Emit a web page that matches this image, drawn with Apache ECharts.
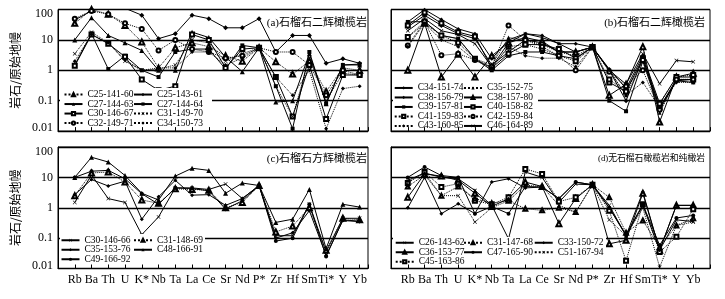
<!DOCTYPE html>
<html><head><meta charset="utf-8">
<script src="https://cdn.jsdelivr.net/npm/echarts@6/dist/echarts.min.js"></script>
<style>html,body{margin:0;padding:0;background:#fff}#c{width:725px;height:299px}</style>
</head><body><div id="c"></div>
<script>
// ---- categories & tick labels ----
const cats = ['Rb','Ba','Th','U','K*','Nb','Ta','La','Ce','Sr','Nd','P*','Zr','Hf','Sm','Ti*','Y','Yb'];
const yTickLabels = ['0.01','0.1','1','10','100'];
const yName = '岩石/原始地幔';
const titles = ['(a)石榴石二辉橄榄岩','(b)石榴石二辉橄榄岩','(c)石榴石方辉橄榄岩','(d)无石榴石橄榄岩和纯橄岩'];

// ---- panel (a) ----
const C25_141_60 = [35, 100, 70, 30, 8.6, 1.2, 5.5, 8, 6, 3, 2, 5.5, 1.9, 0.75, 2, 0.2, 1.2, 1.0];
const C25_143_61 = [45, 90, 130, 110, 65, 11, 16, 65, 50, 25, 25, 50, 4, 14, 14, 1.7, 2.4, 1.7];
const C27_144_63 = [10, 54, 14, 8, 4.5, 1, 1, 18, 12, 2.7, 0.9, 5.5, 0.09, 0.1, 3.5, 0.08, 1.5, 1.5];
const C27_144_64 = [1.5, 16, 1.1, 3, 1, 0.6, 4, 5, 5, 1.1, 6.6, 5.5, 0.3, 0.012, 4, 0.08, 1.5, 1.6];
const C30_146_67 = [1.4, 15, 7.5, 2.8, 0.5, 0.22, 0.3, 15, 10, 1.2, 5, 5.5, 0.6, 0.03, 1.5, 0.025, 0.7, 0.7];
const C31_149_70 = [3.5, 18, 8, 2, 1, 1.1, 1.5, 10, 8, 2, 3.5, 5.5, 0.3, 0.03, 2.5, 0.1, 0.8, 0.7];
const C32_149_71 = [50, 90, 70, 35, 23, 4.5, 10, 5, 4, 2.5, 3, 5.5, 4, 4, 1.5, 0.15, 1, 0.7];
const C34_150_73 = [2, 15, 8, 2.2, 1, 1.2, 1.2, 4, 4, 1.5, 2.5, 5.5, 0.6, 0.15, 1, 0.012, 0.25, 0.3];

// ---- panel (b) ----
const C34_151_74 = [39, 99, 47, 23, 16, 2.4, 10, 16, 14, 7.5, 7.5, 5.8, 1.1, 0.25, 3, 0.08, 0.6, 0.6];
const C35_152_75 = [12, 35, 14, 11, 2.4, 1.5, 12, 10, 7, 4, 3, 5.8, 1, 0.15, 2, 0.04, 0.5, 0.5];
const C38_156_79 = [27, 64, 30, 16, 11, 1.5, 4, 10, 8, 4, 4, 5.8, 1, 0.1, 2.5, 0.06, 0.45, 0.5];
const C38_157_80 = [1, 35, 0.6, 3.4, 0.6, 3, 8, 12, 9, 4, 4, 5.8, 0.15, 0.35, 6, 0.02, 0.6, 0.8];
const C39_157_81 = [39, 40, 14, 11, 2.4, 1, 3, 4, 4, 3, 2.4, 5.8, 0.1, 0.045, 2, 0.05, 0.45, 0.4];
const C40_158_82 = [30, 80, 35, 18, 13, 1.2, 3.5, 7, 7, 5, 2.5, 5.8, 0.4, 0.2, 2.5, 0.06, 0.5, 0.5];
const C41_159_83 = [12.5, 40, 14, 8, 2.4, 1.2, 6, 7, 5, 3, 2, 5.8, 0.5, 0.2, 2.2, 0.08, 0.6, 0.7];
const C42_159_84 = [6.6, 40, 3.1, 3.5, 2.2, 1.3, 30, 10, 6, 3, 1, 5.8, 0.9, 0.3, 1, 0.05, 0.5, 0.5];
const C43_160_85 = [6, 35, 10, 6, 2.1, 1.2, 6, 3, 2.5, 2.5, 1.3, 5.8, 1, 0.15, 0.4, 0.06, 0.4, 0.4];
const C46_164_89 = [20, 50, 20, 15, 7.5, 1.3, 8, 16, 12, 7.5, 4, 5.8, 1, 0.35, 3.5, 0.36, 2.1, 1.9];

// ---- panel (c) ----
const C30_146_66 = [1.5, 12, 2, 1.5, 0.13, 0.5, 4.5, 4.5, 4, 6, 2, 5.4, 0.12, 0.12, 1.3, 0.035, 0.45, 0.45];
const C31_148_69 = [2.5, 14, 15, 7, 1.8, 1.4, 4.2, 4, 3.8, 1, 1.5, 5.4, 0.16, 0.25, 1, 0.04, 0.45, 0.4];
const C35_153_76 = [2.7, 8.5, 5.2, 7.5, 0.42, 2.3, 8, 2.6, 2.7, 1.2, 2, 5.4, 0.1, 0.15, 0.8, 0.027, 0.38, 0.35];
const C48_166_91 = [10, 46, 32, 11.5, 3, 1.8, 11, 20, 17, 3, 6.5, 5.4, 0.33, 0.42, 4, 0.045, 1.3, 1.05];
const C49_166_92 = [10, 16, 17, 9, 2.9, 1.3, 4.5, 4.3, 3.6, 0.9, 1.7, 5.4, 0.08, 0.1, 1.3, 0.025, 0.4, 0.36];

// ---- panel (d) ----
const C26_143_62 = [8, 14, 10, 9, 3.7, 1.2, 0.095, 15, 10, 1.5, 6, 5.7, 1.2, 0.12, 1.2, 0.04, 0.4, 0.35];
const C36_153_77 = [2.2, 13, 11, 8, 3, 1.1, 2, 7, 5, 0.3, 2, 5.7, 0.065, 0.085, 3, 0.04, 1.2, 1.2];
const C45_163_86 = [6.5, 15, 4.8, 6.2, 1.7, 1.3, 2.2, 19, 13, 1.6, 2.2, 5.7, 0.8, 0.018, 1.3, 0.035, 0.11, 0.9];
const C31_147_68 = [5, 12, 2.5, 5, 2, 1.4, 1.7, 0.93, 0.82, 1, 0.72, 5.7, 2.2, 0.15, 0.38, 0.05, 0.26, 0.45];
const C47_165_90 = [10, 22, 11.5, 10, 0.64, 1.1, 0.64, 5, 4.8, 2, 7, 5.7, 1, 0.13, 1.3, 0.058, 0.46, 0.56];
const C33_150_72 = [1, 10, 0.64, 1.35, 0.64, 7, 9, 4.5, 4.8, 2, 7, 5.7, 1, 0.12, 3.3, 0.04, 1.2, 1.2];
const C51_167_94 = [7, 14, 2.5, 2.5, 0.34, 1, 1.7, 5.5, 5, 1.2, 0.72, 5.7, 0.4, 0.12, 1, 0.011, 0.26, 0.34];

const panelSeries = [
  [['C25-141-60',C25_141_60],['C25-143-61',C25_143_61],['C27-144-63',C27_144_63],['C27-144-64',C27_144_64],
   ['C30-146-67',C30_146_67],['C31-149-70',C31_149_70],['C32-149-71',C32_149_71],['C34-150-73',C34_150_73]],
  [['C34-151-74',C34_151_74],['C35-152-75',C35_152_75],['C38-156-79',C38_156_79],['C38-157-80',C38_157_80],
   ['C39-157-81',C39_157_81],['C40-158-82',C40_158_82],['C41-159-83',C41_159_83],['C42-159-84',C42_159_84],
   ['C43-160-85',C43_160_85],['C46-164-89',C46_164_89]],
  [['C30-146-66',C30_146_66],['C31-148-69',C31_148_69],['C35-153-76',C35_153_76],['C48-166-91',C48_166_91],['C49-166-92',C49_166_92]],
  [['C26-143-62',C26_143_62],['C36-153-77',C36_153_77],['C45-163-86',C45_163_86],['C31-147-68',C31_147_68],
   ['C47-165-90',C47_165_90],['C33-150-72',C33_150_72],['C51-167-94',C51_167_94]]
];

// ---- styles ----
const CROSS = 'path://M0,1L1,0L5,4L9,0L10,1L6,5L10,9L9,10L5,6L1,10L0,9L4,5Z';
const S = (type, symbol, size) => ({type, symbol, size});
const styles = {
  'C25-141-60':S('dotted','emptyTriangle',5),'C25-143-61':S('solid','diamond',5),'C27-144-63':S('solid','triangle',5),
  'C27-144-64':S('solid','rect',4),'C30-146-67':S('solid','emptyRect',4),'C31-149-70':S('dotted',CROSS,4),
  'C32-149-71':S('dotted','emptyCircle',4),'C34-150-73':S('dotted','diamond',4),
  'C34-151-74':S('solid','diamond',4),'C35-152-75':S('dotted','triangle',4),'C38-156-79':S('solid','diamond',5),
  'C38-157-80':S('solid','emptyTriangle',5),'C39-157-81':S('solid','rect',4),'C40-158-82':S('solid','emptyRect',4),
  'C41-159-83':S('dotted','emptyRect',4),'C42-159-84':S('dotted','emptyCircle',4),'C43-160-85':S('dotted','diamond',4),
  'C46-164-89':S('solid',CROSS,4),
  'C30-146-66':S('solid',CROSS,4),'C31-148-69':S('dotted','emptyTriangle',5),'C35-153-76':S('solid','diamond',4),
  'C48-166-91':S('solid','triangle',5),'C49-166-92':S('solid','circle',4),
  'C26-143-62':S('solid',CROSS,4),'C36-153-77':S('solid','emptyTriangle',5),'C45-163-86':S('dotted','emptyRect',4),
  'C31-147-68':S('dotted','emptyTriangle',4),'C47-165-90':S('solid','circle',4),'C33-150-72':S('solid','diamond',4),
  'C51-167-94':S('dotted',CROSS,4)
};

const SERIF = '"Liberation Serif","Noto Sans CJK SC",serif';
const grids = [
  {left:58, top:9.5, width:310, height:121.6, xmax:17.5},
  {left:391, top:9.5, width:319, height:121.6, xmax:18},
  {left:58, top:147, width:310, height:121.5, xmax:17.5},
  {left:391, top:147, width:319, height:121.5, xmax:18}
];

const option = {
  animation:false,
  backgroundColor:'#fff',
  grid: grids.map(g=>({left:g.left, top:g.top, width:g.width, height:g.height, show:true, borderColor:'#000', borderWidth:1})),
  xAxis: grids.map((g,k)=>({
    type:'value', gridIndex:k, min:-1, max:g.xmax, interval:1,
    axisLine:{show:true, onZero:false, lineStyle:{color:'#000', width:1}},
    axisTick:{show:true, inside:true, length:4, lineStyle:{color:'#000'}},
    splitLine:{show:false},
    axisLabel:{show:k>=2, margin:5, color:'#000', fontFamily:SERIF, fontSize:12,
      formatter:v=> (Number.isInteger(v) && v>=0 && v<cats.length) ? cats[v] : ''}
  })),
  yAxis: grids.map((g,k)=>({
    type:'log', logBase:10, gridIndex:k, min:0.01, max:100,
    axisLine:{show:true, onZero:false, lineStyle:{color:'#000'}},
    axisTick:{show:false},
    splitLine:{show:true, lineStyle:{color:'#000', width:1.3}},
    axisLabel:{show:k%2===0, margin:5, color:'#000', fontFamily:SERIF, fontSize:12,
      formatter:v=>{const i=Math.round(Math.log10(v))+2; const t=yTickLabels[i];
        if(i===4) return '{t|'+t+'}'; if(i===0) return '{b|'+t+'}'; return t;},
      rich:{t:{padding:[9,0,0,0], fontFamily:SERIF, fontSize:12, color:'#000'},
            b:{padding:[0,0,6,0], fontFamily:SERIF, fontSize:12, color:'#000'}}},
    name: k%2===0 ? yName : '', nameLocation:'middle', nameGap:37,
    nameTextStyle:{fontFamily:'"Noto Sans CJK SC",sans-serif', fontSize:12, color:'#000'}
  })),
  title: titles.map((t,k)=>({
    text:t, padding:0,
    right: k%2===0 ? 725-367 : 725-705,
    top: k<2 ? 17.5 : 154,
    textStyle:{fontFamily:SERIF, fontWeight:'normal', fontSize: k===3 ? 8.8 : 11, color:'#000'}
  })),
  graphic: {elements: [
    {type:'rect', shape:{x:60, y:88, width:152, height:38}, style:{fill:'#fff'}, z:10},
    {type:'rect', shape:{x:393, y:82, width:145, height:45}, style:{fill:'#fff'}, z:10},
    {type:'rect', shape:{x:60, y:234, width:145, height:30}, style:{fill:'#fff'}, z:10},
    {type:'rect', shape:{x:393, y:237, width:213, height:27}, style:{fill:'#fff'}, z:10}
  ]},
  legend: [],
  series: []
};

const legendCols = [
  {left:63.5, top:89.8, lh:8.5, names:['C25-141-60','C27-144-63','C30-146-67','C32-149-71']},
  {left:133, top:89.8, lh:8.5, names:['C25-143-61','C27-144-64','C31-149-70','C34-150-73']},
  {left:393.7, top:83.2, lh:8.2, names:['C34-151-74','C38-156-79','C39-157-81','C41-159-83','C43-160-85']},
  {left:463, top:83.2, lh:8.2, names:['C35-152-75','C38-157-80','C40-158-82','C42-159-84','C46-164-89']},
  {left:60.5, top:235.5, lh:9.5, names:['C30-146-66','C35-153-76','C49-166-92']},
  {left:133, top:235.5, lh:9.5, names:['C31-148-69','C48-166-91']},
  {left:394.7, top:238, lh:7.5, names:['C26-143-62','C36-153-77','C45-163-86']},
  {left:463, top:238, lh:7.5, names:['C31-147-68','C47-165-90']},
  {left:533.7, top:238, lh:7.5, names:['C33-150-72','C51-167-94']}
];
option.legend = legendCols.map(c=>({
  orient:'vertical', left:c.left, top:c.top, padding:0, itemGap:0, itemWidth:18, itemHeight:4,
  selectedMode:false, z:20, data:c.names,
  textStyle:{fontFamily:SERIF, fontSize:9.5, color:'#000', lineHeight:c.lh, padding:0}
}));

panelSeries.forEach((list,k)=>{
  list.forEach(([name,vals])=>{
    const st = styles[name];
    option.series.push({
      type:'line', name, xAxisIndex:k, yAxisIndex:k,
      data: vals.map((v,i)=>[i,v]),
      symbol: st.symbol, symbolSize: st.size,
      lineStyle:{color:'#000', width:1, type: st.type},
      itemStyle:{color:'#000', borderColor:'#000', borderWidth: st.symbol.startsWith('empty')?1:0},
      emphasis:{disabled:true}, z:2, clip:true
    });
  });
});

const chart = echarts.init(document.getElementById('c'), null, {renderer:'canvas'});
chart.setOption(option);
</script>
</body></html>
